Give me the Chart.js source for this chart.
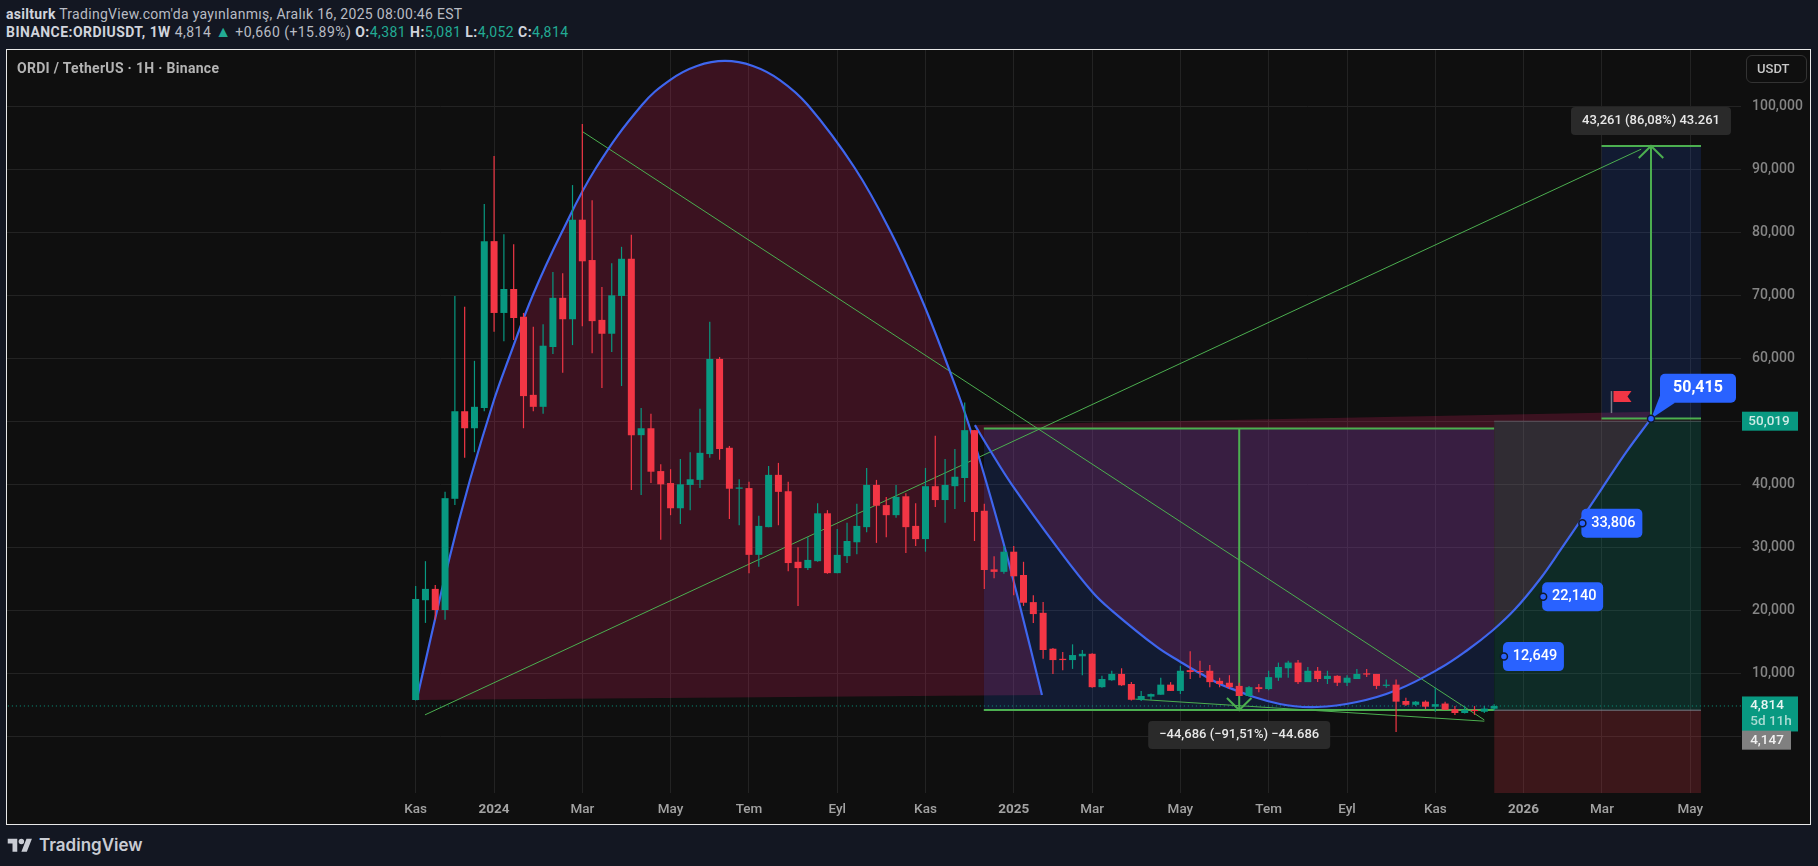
<!DOCTYPE html>
<html>
<head>
<meta charset="utf-8">
<title>ORDIUSDT</title>
<script src="https://cdn.jsdelivr.net/npm/chart.js@4/dist/chart.umd.min.js"></script>
<style>
    html, body { margin: 0; padding: 0; background: #131722; width: 1818px; height: 866px; overflow: hidden; }
    body { font-family: Roboto, sans-serif; position: relative; }
    .hdr { position: absolute; left: 6px; color: #b9bcc4; font-size: 14px; letter-spacing: 0.3px; white-space: nowrap; }
    .hdr b { color: #d1d4dc; }
    .hdr i { font-style: normal; color: #22ab94; }
    #frame { position: absolute; left: 6px; top: 49px; width: 1805px; height: 776px; box-sizing: border-box; border: 1px solid #e8e8e8; background: #0f0f0f; }
    #chart { position: absolute; left: 7px; top: 50px; }
    #title { position: absolute; left: 17px; top: 60px; color: #b4b4b4; font-size: 14px; letter-spacing: 0.3px; font-weight: 700; }
    #usdt { position: absolute; left: 1746px; top: 55px; width: 61px; height: 28px; box-sizing: border-box; border: 1px solid #333; border-radius: 6px; color: #c8c8c8; font-size: 13px; font-weight: 500; line-height: 26px; padding-left: 10px; }
    #logo { position: absolute; left: 7px; top: 835px; color: #c9ccd4; font: 600 17px Inter, sans-serif; display: flex; align-items: center; gap: 6px; }
</style>
</head>
<body>
<div class="hdr" style="top:6px"><b>asilturk</b> TradingView.com'da yayınlanmış, Aralık 16, 2025 08:00:46 EST</div>
<div class="hdr" style="top:24px;letter-spacing:0.45px"><b>BINANCE:ORDIUSDT, 1W</b> 4,814 <i style="font-size:16px;line-height:14px">▲</i> +0,660 (+15.89%) <b>O:</b><i>4,381</i> <b>H:</b><i>5,081</i> <b>L:</b><i>4,052</i> <b>C:</b><i>4,814</i></div>
<div id="frame"></div>
<canvas id="chart" width="1803" height="774"></canvas>
<div id="title">ORDI / TetherUS · 1H · Binance</div>
<div id="usdt">USDT</div>
<div id="logo">
    <svg width="26" height="15" viewBox="0 0 36 22" fill="#c9ccd4"><path d="M14 20H7V8H0V1h14v19zM28 20h-8l7.5-19h8L28 20z"/><circle cx="20" cy="5" r="4"/></svg>
    <span>TradingView</span>
</div>

<script>
// Eje X: numero de vela semanal, eje Y: precio
const tickBars = [0, 8, 17, 26, 34, 43, 52, 61, 69, 78, 87, 95, 104, 113, 121, 130];
const tickLabels = ['Kas', '2024', 'Mar', 'May', 'Tem', 'Eyl', 'Kas', '2025', 'Mar', 'May', 'Tem', 'Eyl', 'Kas', '2026', 'Mar', 'May'];
const priceTicks = [0, 10, 20, 30, 40, 50, 60, 70, 80, 90, 100];

const opens = [
    5.76, 21.6, 23.4, 20.05, 37.7, 51.6, 48.9, 52.1, 78.6, 67.2,
    71, 66.6, 54.2, 52.3, 61.8, 69.6, 66.2, 82, 75.6, 66.1,
    63.9, 69.9, 75.8, 47.8, 48.9, 42.1, 40.2, 36.2, 39.9, 40.7,
    44.8, 59.9, 45.8, 39.3, 39.4, 28.8, 33.2, 41.5, 38.9, 27.7,
    26.7, 27.8, 35.4, 25.9, 28.6, 30.8, 33.2, 39.9, 36.7, 35.1,
    38.1, 33.4, 31.3, 39.7, 37.5, 39.7, 41, 48.6, 35.8, 26.5,
    26.1, 29.3, 25.6, 21.3, 19.6, 13.9, 12.3, 12.1, 12.7, 13.1,
    7.8, 8.9, 9.9, 8.3, 5.8, 6.3, 6.6, 8.2, 7.2, 10.5,
    10.3, 10.4, 8.8, 8.5, 8, 6.4, 7.8, 7.5, 9.3, 10.8,
    11.7, 8.6, 10.4, 9.1, 9.6, 8.5, 9.1, 10, 9.9, 8,
    8.2, 5.6, 5, 5.5, 4.7, 5.2, 4.3, 3.7, 4.2, 3.9, 4.381
];
const closes = [
    21.8, 23.4, 20.05, 37.8, 51.6, 48.9, 52.3, 78.6, 67.2, 71,
    66.4, 54, 52.3, 62, 69.6, 66.2, 82, 75.4, 65.9, 63.9,
    70, 75.8, 47.8, 48.9, 42, 40, 36.2, 40, 40.8, 45,
    59.9, 45.6, 39.3, 39.5, 28.8, 33.4, 41.5, 38.8, 27.5, 26.7,
    28, 35.4, 25.9, 28.8, 31, 33.4, 39.9, 36.6, 35.1, 38,
    33.2, 31.3, 39.7, 37.5, 39.9, 41.2, 48.6, 35.6, 26.4, 26.1,
    29.3, 25.4, 21.2, 19.4, 13.7, 12.1, 12.1, 12.9, 13.1, 7.8,
    9.1, 9.9, 8.1, 5.8, 6.4, 6.7, 8.2, 7.2, 10.4, 10.2,
    10.2, 8.6, 8.3, 7.8, 6.4, 7.8, 7.5, 9.4, 11, 11.7,
    8.6, 10.4, 9.1, 9.6, 8.5, 9.3, 9.9, 9.8, 8, 8.2,
    5.5, 5, 5.5, 4.7, 5.1, 4.2, 3.7, 4.2, 4, 4.4, 4.814
];
const highs = [
    23.86, 27.8, 24, 38.8, 69.9, 68.2, 59.6, 84.5, 92.1, 79.7,
    78.1, 67.2, 65, 65.4, 73.7, 73.5, 87.5, 97.2, 85.1, 71.3,
    75.1, 77.7, 79.6, 52.1, 51.2, 43.2, 42.4, 44, 45.1, 52,
    65.8, 60.2, 46.1, 40.8, 40.4, 35, 42.9, 43.4, 40.4, 30,
    31.6, 37, 35.9, 32.9, 33.9, 36.9, 42.6, 40.7, 38, 39.9,
    38.6, 37, 42.6, 47.7, 44, 45.6, 53, 48.6, 36.9, 28.6,
    30.2, 30.2, 27.7, 22.4, 21.3, 14, 13.4, 14.6, 13.7, 13.2,
    9.6, 10.4, 10.8, 8.6, 7.2, 6.8, 9.3, 8.6, 11.2, 13.5,
    12, 11.3, 9.3, 9.7, 8.5, 8, 8.3, 10.4, 11.7, 12,
    12.1, 11, 11, 10.4, 9.7, 9.7, 10.7, 10.7, 9.9, 9,
    9, 6.1, 5.6, 5.7, 7.7, 5.5, 4.8, 4.8, 4.8, 4.8, 5.081
];
const lows = [
    5.7, 18, 18.5, 18.5, 36.7, 44.2, 45.1, 51.6, 64.2, 62.7,
    62.9, 48.9, 51.6, 51.2, 60.7, 57.7, 62.1, 65.1, 60.8, 55.3,
    61, 55.6, 39.1, 38.3, 40.2, 31.2, 35.1, 33.7, 35.9, 39.4,
    44.2, 43.9, 34.5, 33.5, 25.9, 26.9, 33.2, 33.5, 26.2, 20.7,
    26.4, 27.7, 25.8, 25.9, 27.5, 28.9, 32.4, 30.7, 31.6, 34.7,
    29.1, 30.2, 29.3, 36.4, 33.9, 36.1, 37.2, 31, 23.4, 25.1,
    25.8, 22.4, 20.7, 18, 12.3, 9.9, 10.5, 10.7, 9.7, 7.7,
    7.7, 8.8, 8, 5.7, 5.6, 5.8, 6.6, 7.2, 6.7, 9.1,
    9.3, 7.8, 7.8, 7.5, 6.4, 6.3, 7, 7.3, 8.8, 9.3,
    8.3, 8.6, 8.6, 8.3, 8, 8, 9.1, 9.4, 7.5, 7.7,
    0.7, 4.8, 4.8, 4.3, 3.9, 4.2, 3.4, 3.6, 3.4, 3.7, 4.052
];

// Curva superior (la "cupula") y su cuerda
const arcBars = [0.1, 3.4, 5.54, 7.99, 9.52, 11.96, 14.92, 18.39, 23.08, 25.94, 28.69, 31.55, 34.4, 37.15, 40, 44.79, 48.46, 51.43, 53.98, 56.53, 59.59, 61.43, 63.88];
const arcPrices = [5.76, 27.98, 40.68, 53.38, 60.05, 70.05, 80.05, 90.21, 100.21, 104.17, 106.4, 107.2, 106.4, 104.17, 100.21, 90.21, 80.05, 70.05, 60.05, 48.94, 32.75, 21.95, 6.56];
const arcChordBars = [0.1, 63.88];
const arcChordPrices = [5.76, 6.56];

// Curva inferior (el "cuenco") y su cuerda
const bowlBars = [57.04, 58.57, 60.79, 65.43, 69, 70.98, 75.57, 77.98, 79.99, 82.74, 88.15, 91.92, 96, 100.08, 104.47, 107.19, 109.9, 112.12, 114.67, 116.84, 118.67, 121.02, 123.51, 126];
const bowlPrices = [49.4, 45.44, 40, 30, 22.95, 20, 14.22, 11.84, 10, 7.83, 5.13, 4.65, 5.44, 7.35, 10.79, 13.58, 16.87, 20.15, 24.93, 29.74, 33.9, 39.4, 45.18, 50.415];
const bowlChordBars = [57.04, 126];
const bowlChordPrices = [49.4, 51.5];

// Lineas de tendencia
const riseBars = [0.95, 125];
const risePrices = [3.4, 93.2];
const fallBars = [17, 109];
const fallPrices = [96, 2.6];
const baseBars = [73.4, 109];
const basePrices = [5.9, 2.4];

// Rangos de precio y posicion larga
const dropBars = [57.95, 110];
const dropTop = 48.86;
const dropBottom = 4.17;
const dropArrowBar = 84;
const riseRangeBars = [120.95, 131.1];
const riseRangeTop = 93.7;
const riseRangeBottom = 50.43;
const riseArrowBar = 126;
const positionBars = [110, 131.1];
const positionTarget = 50.019;
const positionEntry = 4.147;
const lastPrice = 4.814;

// Etiquetas azules
const calloutBars = [111, 115, 119, 126];
const calloutPrices = [12.649, 22.14, 33.806, 50.415];

const fmt = v => v.toFixed(3).replace('.', ',');
const GREEN = '#4caf50';
const BLUE = '#3f66ee';
const UP = '#089981';
const DOWN = '#f23645';

const datasets = [];
function add(ds) {
    ds.order = 1000 - datasets.length;
    datasets.push(ds);
    return datasets.length - 1;
}
function pts(xs, ys) {
    return xs.map((x, i) => ({ x: x, y: ys[i] }));
}
function line(data, color, width, extra) {
    return add(Object.assign({ type: 'line', data: data, borderColor: color, borderWidth: width, pointRadius: 0, tension: 0, fill: false }, extra || {}));
}
// Rectangulo relleno: linea horizontal con relleno hasta otro precio
function band(bars, top, bottom, color, edge) {
    line(pts(bars, [top, top]), edge || 'transparent', edge ? 1 : 0, { fill: { value: bottom }, backgroundColor: color });
}

// Rellenos de las curvas (debajo de todo)
const PINK = 'rgba(233,30,99,0.2)';
const arcChord = line(pts(arcChordBars, arcChordPrices), 'transparent', 0);
line(pts(arcBars, arcPrices), 'transparent', 0, { tension: 0.4, fill: { target: arcChord }, backgroundColor: PINK });
const bowlChord = line(pts(bowlChordBars, bowlChordPrices), 'transparent', 0);
line(pts(bowlBars, bowlPrices), 'transparent', 0, { tension: 0.4, fill: { target: bowlChord }, backgroundColor: PINK });

// Zonas
band(positionBars, positionTarget, positionEntry, 'rgba(8,153,129,0.2)', 'rgba(120,123,134,0.5)');
band(positionBars, positionEntry, -9, 'rgba(242,54,69,0.2)', '#787b86');
band(dropBars, dropTop, dropBottom, 'rgba(41,98,255,0.15)');
band(riseRangeBars, riseRangeTop, riseRangeBottom, 'rgba(41,98,255,0.15)');

// Precio actual
line(pts([-42, 136], [lastPrice, lastPrice]), UP, 1, { borderDash: [1, 3] });

// Lineas finas
line(pts(riseBars, risePrices), GREEN, 1);
line(pts(fallBars, fallPrices), GREEN, 1);
line(pts(baseBars, basePrices), GREEN, 1);

// Rangos con flecha
line(pts(dropBars, [dropTop, dropTop]), GREEN, 2);
line(pts(dropBars, [dropBottom, dropBottom]), GREEN, 2);
line(pts([dropArrowBar, dropArrowBar], [dropTop, dropBottom]), GREEN, 2);
line(pts([dropArrowBar - 1.25, dropArrowBar, dropArrowBar + 1.25], [dropBottom + 1.9, dropBottom, dropBottom + 1.9]), GREEN, 2);
line(pts(riseRangeBars, [riseRangeTop, riseRangeTop]), GREEN, 2);
line(pts(riseRangeBars, [riseRangeBottom, riseRangeBottom]), GREEN, 2);
line(pts([riseArrowBar, riseArrowBar], [riseRangeBottom, riseRangeTop]), GREEN, 2);
line(pts([riseArrowBar - 1.25, riseArrowBar, riseArrowBar + 1.25], [riseRangeTop - 1.9, riseRangeTop, riseRangeTop - 1.9]), GREEN, 2);

// Trazos azules de las curvas
line(pts(arcBars, arcPrices), BLUE, 2.2, { tension: 0.4 });
line(pts(bowlBars, bowlPrices), BLUE, 2.2, { tension: 0.4 });

// Velas
const candleColors = closes.map((c, i) => (c >= opens[i] ? UP : DOWN));
add({
    type: 'bar', grouped: false, barThickness: 1.2, inflateAmount: 0,
    data: opens.map((o, i) => ({ x: i, y: [lows[i], highs[i]] })),
    backgroundColor: candleColors
});
add({
    type: 'bar', grouped: false, barThickness: 7, inflateAmount: 0, minBarLength: 1,
    data: opens.map((o, i) => ({ x: i, y: [o, closes[i]] })),
    backgroundColor: candleColors
});

// Puntos de las etiquetas azules
const markerIndex = add({
    type: 'line', data: pts(calloutBars, calloutPrices), showLine: false, pointRadius: 3.5,
    pointBackgroundColor: '#2962ff', pointBorderColor: '#10192e', pointBorderWidth: 1.5
});

function roundBox(ctx, x, y, w, h, r, color) {
    ctx.fillStyle = color;
    ctx.beginPath();
    ctx.roundRect(x, y, w, h, r);
    ctx.fill();
}
function boxText(ctx, text, x, y, color, font) {
    ctx.fillStyle = color;
    ctx.font = font || '500 13px Roboto';
    ctx.textBaseline = 'middle';
    ctx.textAlign = 'center';
    ctx.fillText(text, x, y);
}

// Etiquetas que dependen de las escalas (van justo debajo de los puntos azules)
const labelsPlugin = {
    id: 'labels',
    beforeDatasetDraw(chart, args) {
        if (args.index !== markerIndex) return;
        const ctx = chart.ctx;
        const sx = chart.scales.x;
        const sy = chart.scales.y;
        ctx.save();

        // Medidas de los rangos
        let cx = sx.getPixelForValue(riseArrowBar);
        let cy = sy.getPixelForValue(riseRangeTop) - 25;
        roundBox(ctx, cx - 80, cy - 14, 160, 28, 4, '#2a2a2a');
        boxText(ctx, '43,261 (86,08%) 43.261', cx, cy, '#e8e8e8');
        cx = sx.getPixelForValue(dropArrowBar);
        cy = sy.getPixelForValue(dropBottom) + 25;
        roundBox(ctx, cx - 91, cy - 14, 182, 28, 4, '#2a2a2a');
        boxText(ctx, '−44,686 (−91,51%) −44.686', cx, cy, '#e8e8e8');

        // Etiquetas azules
        calloutBars.forEach((bar, i) => {
            const px = sx.getPixelForValue(bar);
            const py = sy.getPixelForValue(calloutPrices[i]);
            const text = fmt(calloutPrices[i]);
            if (i === calloutBars.length - 1) {
                ctx.fillStyle = '#2962ff';
                ctx.beginPath();
                ctx.moveTo(px, py);
                ctx.lineTo(px + 9, py - 23);
                ctx.lineTo(px + 24, py - 16);
                ctx.closePath();
                ctx.fill();
                roundBox(ctx, px + 9, py - 45, 76, 29, 5, '#2962ff');
                boxText(ctx, text, px + 47, py - 31, '#ffffff', '700 16px Roboto');
            } else {
                roundBox(ctx, px - 1, py - 14.5, 61, 29, 5, '#2962ff');
                boxText(ctx, text, px + 31, py, '#ffffff', '500 14.5px Roboto');
            }
        });

        // Bandera
        const fx = sx.getPixelForValue(121.97);
        const fy = sy.getPixelForValue(54.8);
        ctx.strokeStyle = '#787b86';
        ctx.lineWidth = 1.5;
        ctx.beginPath();
        ctx.moveTo(fx, fy);
        ctx.lineTo(fx, fy + 22);
        ctx.stroke();
        ctx.fillStyle = DOWN;
        ctx.beginPath();
        ctx.moveTo(fx + 2, fy);
        ctx.lineTo(fx + 20, fy);
        ctx.lineTo(fx + 16, fy + 5.5);
        ctx.lineTo(fx + 20, fy + 11);
        ctx.lineTo(fx + 2, fy + 11);
        ctx.closePath();
        ctx.fill();

        // Etiquetas del eje de precios
        const ax = chart.chartArea.right + 1;
        const tagFont = '500 13.5px Roboto';
        let ty = sy.getPixelForValue(positionTarget);
        ctx.fillStyle = UP;
        ctx.fillRect(ax, ty - 9.5, 56, 19);
        boxText(ctx, fmt(positionTarget), ax + 27, ty, 'rgba(255,255,255,0.8)', tagFont);
        ty = sy.getPixelForValue(lastPrice);
        ctx.fillStyle = UP;
        ctx.fillRect(ax, ty - 9.5, 56, 35);
        boxText(ctx, fmt(lastPrice), ax + 25, ty, '#e8f5f2', tagFont);
        boxText(ctx, '5d 11h', ax + 29, ty + 16, 'rgba(255,255,255,0.65)', tagFont);
        ty = sy.getPixelForValue(positionEntry) + 30;
        ctx.fillStyle = '#808080';
        ctx.fillRect(ax, ty - 9.5, 49, 19);
        boxText(ctx, fmt(positionEntry), ax + 25, ty, '#f0f0f0', tagFont);
        ctx.restore();
    }
};

new Chart(document.getElementById('chart'), {
    type: 'bar',
    data: { datasets: datasets },
    plugins: [labelsPlugin],
    options: {
        responsive: false,
        animation: false,
        devicePixelRatio: 1,
        layout: { padding: 0, autoPadding: false },
        plugins: { legend: { display: false }, tooltip: { enabled: false } },
        scales: {
            x: {
                type: 'linear', offset: false, min: -41.68, max: 135.18,
                grid: { offset: false, color: '#232323', drawTicks: false },
                border: { display: false },
                afterBuildTicks: s => { s.ticks = tickBars.map(v => ({ value: v })); },
                afterFit: s => { s.height = 31; s.paddingLeft = s.paddingRight = 0; },
                ticks: {
                    autoSkip: false, maxRotation: 0, padding: 9, color: '#a3a3a3',
                    font: ctx => ({ family: 'Roboto', size: 13.5, weight: /^20/.test(tickLabels[ctx.index] || '') ? 700 : 500 }),
                    callback: (v, i) => tickLabels[i]
                }
            },
            y: {
                type: 'linear', position: 'right', min: -9, max: 108.94,
                grid: { color: '#232323', drawTicks: false },
                border: { display: false },
                afterBuildTicks: s => { s.ticks = priceTicks.map(v => ({ value: v })); },
                afterFit: s => { s.width = 69; s.paddingTop = s.paddingBottom = 0; },
                ticks: {
                    autoSkip: false, padding: 11, color: '#858585',
                    font: { family: 'Roboto', size: 14, weight: 500 },
                    callback: v => (v === 0 ? '' : fmt(v))
                }
            }
        }
    }
});
</script>
</body>
</html>
